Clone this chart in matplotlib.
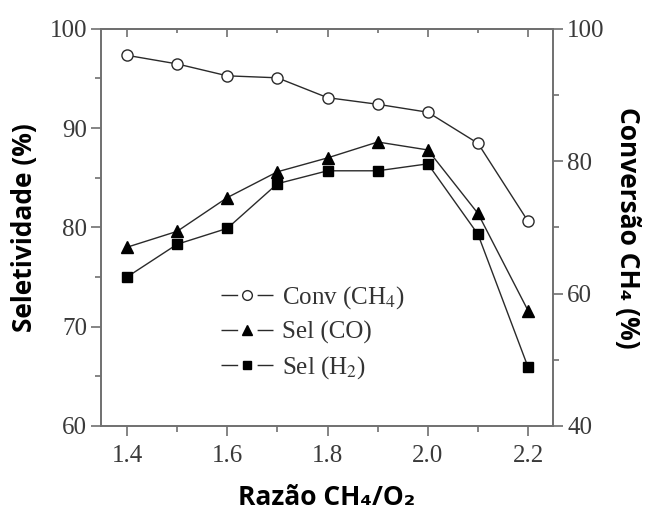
import matplotlib
matplotlib.use("Agg")
import matplotlib.pyplot as plt
from matplotlib.ticker import MultipleLocator, FormatStrFormatter
from matplotlib.lines import Line2D

plt.rcParams.update({
    "font.family": ["Liberation Serif", "DejaVu Serif"],
    "mathtext.fontset": "stix",
    "axes.edgecolor": "#707070",
    "axes.linewidth": 1.2,
    "xtick.color": "#707070",
    "ytick.color": "#707070",
    "xtick.labelcolor": "#3a3a3a",
    "ytick.labelcolor": "#3a3a3a",
})

# ---- data ----
ratio = [1.4, 1.5, 1.6, 1.7, 1.8, 1.9, 2.0, 2.1, 2.2]
conv_ch4 = [96.0, 94.7, 92.9, 92.6, 89.6, 88.6, 87.4, 82.7, 70.9]   # right axis
sel_co = [78.0, 79.6, 83.0, 85.6, 87.0, 88.6, 87.8, 81.4, 71.6]     # left axis
sel_h2 = [75.0, 78.3, 79.9, 84.4, 85.7, 85.7, 86.4, 79.3, 65.9]     # left axis
labels = ["Conv (CH$_4$)", "Sel (CO)", "Sel (H$_2$)"]

LINE = "#2a2a2a"
SANS = ["Open Sans", "DejaVu Sans"]

fig = plt.figure(figsize=(6.47, 5.15), dpi=100)
ax = fig.add_axes([0.156, 0.173, 0.699, 0.771])
ax2 = ax.twinx()

ax2.plot(ratio, conv_ch4, "-o", color=LINE, lw=1.0, ms=8,
         mfc="white", mec=LINE, mew=1.0)
ax.plot(ratio, sel_co, "-^", color=LINE, lw=1.0, ms=8, mfc="black", mec="black")
ax.plot(ratio, sel_h2, "-s", color=LINE, lw=1.0, ms=7, mfc="black", mec="black")

ax.set_xlim(1.348, 2.25)
ax.set_ylim(60, 100)
ax2.set_ylim(40, 100)

ax.xaxis.set_major_locator(MultipleLocator(0.2))
ax.xaxis.set_minor_locator(MultipleLocator(0.1))
ax.yaxis.set_major_locator(MultipleLocator(10))
ax.yaxis.set_minor_locator(MultipleLocator(5))
ax2.yaxis.set_major_locator(MultipleLocator(20))
ax2.yaxis.set_minor_locator(MultipleLocator(10))
ax.xaxis.set_major_formatter(FormatStrFormatter("%.1f"))

ax.tick_params(axis="both", which="major", direction="out", length=7,
               width=1.2, labelsize=18, pad=3)
ax.tick_params(axis="both", which="minor", direction="out", length=4, width=1.2)
ax.tick_params(axis="x", which="major", pad=7)
ax2.tick_params(axis="y", which="major", direction="out", length=7,
                width=1.2, labelsize=18, pad=3)
ax2.tick_params(axis="y", which="minor", direction="out", length=4, width=1.2)

# top ticks point inward, no labels
top = ax.secondary_xaxis("top")
top.xaxis.set_major_locator(MultipleLocator(0.2))
top.xaxis.set_minor_locator(MultipleLocator(0.1))
top.tick_params(which="major", direction="in", length=6, width=1.2, labeltop=False)
top.tick_params(which="minor", direction="in", length=3, width=1.2)
top.spines["top"].set_color("#707070")

ax.set_ylabel("Seletividade (%)", family=SANS, fontweight="bold",
              fontsize=19, color="black", labelpad=8)
ax2.set_ylabel("Conversão CH₄ (%)", family=SANS, fontweight="bold",
               fontsize=19, color="black", rotation=270, labelpad=26)
ax.set_xlabel("Razão CH₄/O₂", family=SANS, fontweight="bold",
              fontsize=19, color="black", labelpad=12)

# legend handles with a gap around the marker: "—o—"
gap = (0, (12, 14))
handles = [
    Line2D([], [], color=LINE, lw=1.0, ls=gap, marker="o", ms=7,
           mfc="white", mec=LINE),
    Line2D([], [], color=LINE, lw=1.0, ls=gap, marker="^", ms=7,
           mfc="black", mec="black"),
    Line2D([], [], color=LINE, lw=1.0, ls=gap, marker="s", ms=6,
           mfc="black", mec="black"),
]
ax.legend(handles, labels, loc="center left", bbox_to_anchor=(0.215, 0.235),
          frameon=False, fontsize=18, handlelength=2.1, handletextpad=0.35,
          labelspacing=0.4, labelcolor="#333333")

fig.savefig("out.png", dpi=100)
